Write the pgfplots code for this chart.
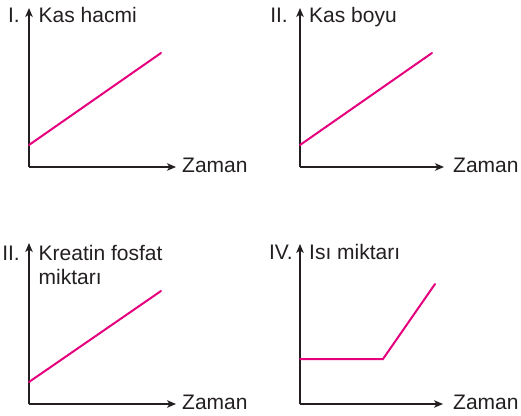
\documentclass[border=0pt]{standalone}
\usepackage{fontspec}
\setmainfont{Liberation Sans}
\usepackage{pgfplots}
\pgfplotsset{compat=1.18}
\usetikzlibrary{arrows.meta}

\definecolor{ink}{HTML}{231F20}
\definecolor{rubine}{HTML}{E5007D}

% one panel: 1 unit = 1pt, origin at the axes corner
\pgfplotsset{
  panel/.style={
    x=1pt, y=1pt,
    anchor=south west,
    xmin=0, xmax=147, ymin=0, ymax=159,
    axis lines*=left,
    xtick=\empty, ytick=\empty,
    clip=false,
    axis line style={ink, line width=1.3pt, -{Stealth[length=9pt,width=7.5pt,inset=2.5pt]}},
  },
  curve/.style={rubine, line width=2pt, line cap=round},
}

\begin{document}
\begin{tikzpicture}[x=1pt, y=1pt,
  lbl/.style={font=\fontsize{21}{24}\selectfont, text=ink, inner sep=0pt}]
\useasboundingbox (0,0) rectangle (521,415);

% ---- I. Kas hacmi ----
\begin{axis}[panel, at={(29,248)}]
\addplot[curve] coordinates {(0,22)(132,114)};
\end{axis}
\node[lbl, anchor=base east] at (20,392.5) {I.};
\node[lbl, anchor=base west] at (38.5,392.5) {Kas hacmi};
\node[lbl, anchor=base west] at (182,242.7) {Zaman};

% ---- II. Kas boyu ----
\begin{axis}[panel, at={(300,248)}, xmax=144]
\addplot[curve] coordinates {(0,22)(132,114)};
\end{axis}
\node[lbl, anchor=base east] at (288,392.5) {II.};
\node[lbl, anchor=base west] at (309,392.5) {Kas boyu};
\node[lbl, anchor=base west] at (453,242.7) {Zaman};

% ---- II. Kreatin fosfat miktari ----
\begin{axis}[panel, at={(29,11)}, ymax=161]
\addplot[curve] coordinates {(0,22)(132,113)};
\end{axis}
\node[lbl, anchor=base east] at (20,155) {II.};
\node[lbl, anchor=base west] at (38.5,155) {Kreatin fosfat};
\node[lbl, anchor=base west] at (38.5,131) {miktarı};
\node[lbl, anchor=base west] at (182,5.5) {Zaman};

% ---- IV. Isi miktari ----
\begin{axis}[panel, at={(300,11)}, xmax=143, ymax=160]
\addplot[curve, line join=miter] coordinates {(0,45)(83,45)(135,120)};
\end{axis}
\node[lbl, anchor=base east] at (293,156) {IV.};
\node[lbl, anchor=base west] at (309,156) {Isı miktarı};
\node[lbl, anchor=base west] at (453,5.5) {Zaman};
\end{tikzpicture}
\end{document}
